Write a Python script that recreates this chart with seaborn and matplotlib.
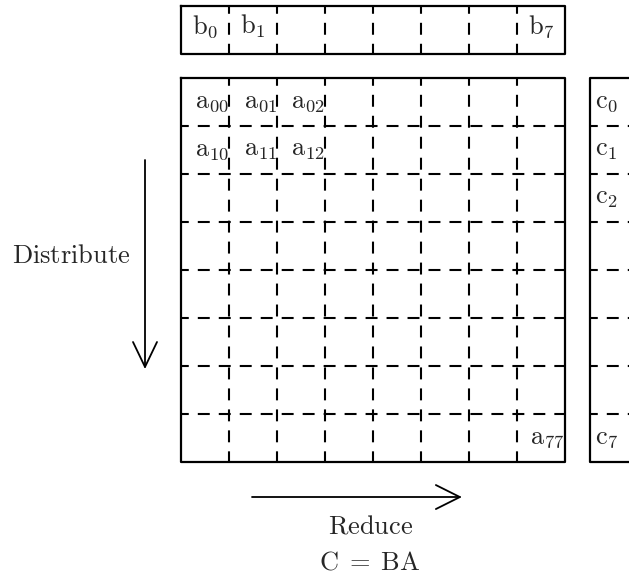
import matplotlib
matplotlib.use("Agg")
import matplotlib.pyplot as plt
import seaborn as sns

# grid size and the labelled cells
n = 8
b_cols = [0, 1, 7]
b_labels = [r"$\mathrm{b}_0$", r"$\mathrm{b}_1$", r"$\mathrm{b}_7$"]
a_rows = [0, 0, 0, 1, 1, 1, 7]
a_cols = [0, 1, 2, 0, 1, 2, 7]
a_labels = [r"$\mathrm{a}_{00}$", r"$\mathrm{a}_{01}$", r"$\mathrm{a}_{02}$",
            r"$\mathrm{a}_{10}$", r"$\mathrm{a}_{11}$", r"$\mathrm{a}_{12}$",
            r"$\mathrm{a}_{77}$"]
c_rows = [0, 1, 2, 7]
c_labels = [r"$\mathrm{c}_0$", r"$\mathrm{c}_1$", r"$\mathrm{c}_2$", r"$\mathrm{c}_7$"]

sns.set_style("white")
plt.rcParams["mathtext.fontset"] = "cm"
plt.rcParams["lines.scale_dashes"] = False

fig = plt.figure(figsize=(6.29, 5.84), dpi=100)
ax = fig.add_axes([0, 0, 1, 1])
cell_px = 48
ax.set_xlim(-181 / cell_px, (629 - 181) / cell_px)
ax.set_ylim((584 - 78) / cell_px, -78 / cell_px)
ax.axis("off")

solid = dict(color="black", lw=1.6, solid_capstyle="projecting")
dashed = dict(color="black", lw=1.5, linestyle=(3, (8.6, 6.5)))
fs = 19

# b row above the matrix
b_top, b_bot = -1.5, -0.5
ax.plot([0, n, n, 0, 0], [b_top, b_top, b_bot, b_bot, b_top], **solid)
for k in range(1, n):
    ax.plot([k, k], [b_top, b_bot], **dashed)
for col, lab in zip(b_cols, b_labels):
    ax.text(col + 0.5, b_top + 0.57, lab, ha="center", va="baseline", fontsize=fs)

# main matrix A
ax.plot([0, n, n, 0, 0], [0, 0, n, n, 0], **solid)
for k in range(1, n):
    ax.plot([k, k], [0, n], **dashed)
    ax.plot([0, n], [k, k], **dashed)
for r, col, lab in zip(a_rows, a_cols, a_labels):
    ax.text(col + 1.0, r + 0.62, lab, ha="right", va="baseline", fontsize=fs)

# c column on the right
c_left = n + 0.52
c_right = c_left + 1
ax.plot([c_right, c_left, c_left, c_right], [0, 0, n, n], **solid)
for k in range(1, n):
    ax.plot([c_left, c_right], [k, k], **dashed)
for r, lab in zip(c_rows, c_labels):
    ax.text(c_left + 0.1, r + 0.62, lab, ha="left", va="baseline", fontsize=fs)

# distribute arrow
ax_x, y0, y1 = -0.75, 1.71, 6.02
ax.plot([ax_x, ax_x], [y0, y1], color="black", lw=1.3)
ax.plot([ax_x - 0.25, ax_x, ax_x + 0.25], [y1 - 0.52, y1, y1 - 0.52], color="black", lw=1.3)
ax.text(-1.06, 3.85, r"$\mathrm{Distribute}$", ha="right", va="baseline", fontsize=fs)

# reduce arrow
ry, x0, x1 = 8.73, 1.48, 5.81
ax.plot([x0, x1], [ry, ry], color="black", lw=1.3)
ax.plot([x1 - 0.5, x1, x1 - 0.5], [ry - 0.25, ry, ry + 0.25], color="black", lw=1.3)
ax.text(3.94, 9.48, r"$\mathrm{Reduce}$", ha="center", va="baseline", fontsize=fs)
ax.text(3.94, 10.25, r"$\mathrm{C}\;=\;\mathrm{BA}$", ha="center", va="baseline", fontsize=fs)

fig.savefig("out.png", dpi=100)
